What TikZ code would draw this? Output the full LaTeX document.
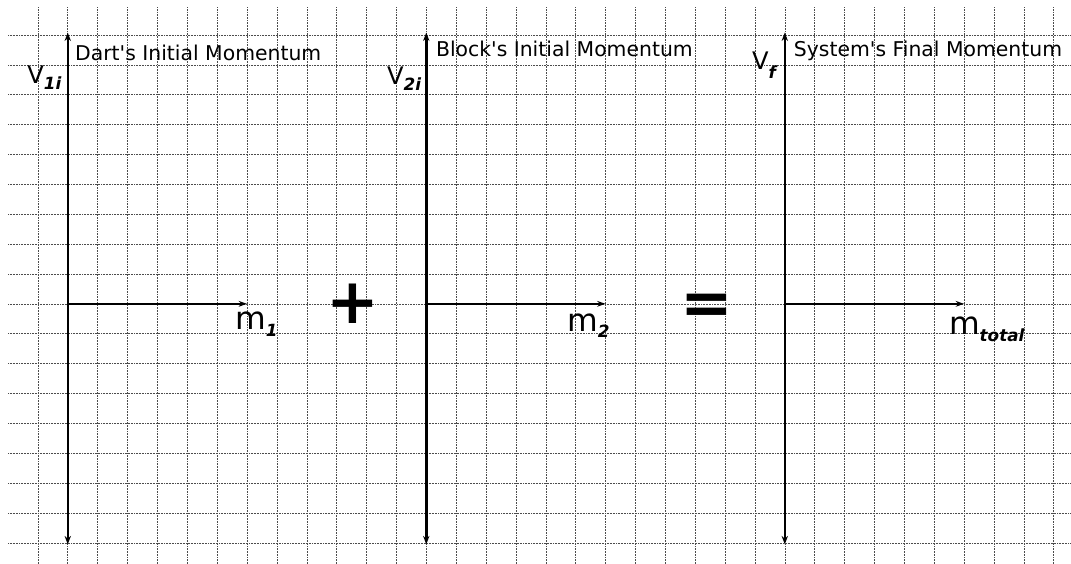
\documentclass[tikz,border=0pt]{standalone}
\usepackage{fontspec}
\newfontfamily\dv{DejaVu Sans}
\usetikzlibrary{arrows.meta}
\newcommand{\subf}[1]{{\fontsize{16}{16}\selectfont\bfseries\itshape #1}}
\begin{document}
\begin{tikzpicture}[
  gridline/.style={black!70, line width=0.5pt, densely dotted},
  vaxis/.style={line width=2.4pt, {Stealth[length=8pt,width=6pt]}-{Stealth[length=8pt,width=6pt]}},
  haxis/.style={line width=1.6pt, -{Stealth[length=8pt,width=5.5pt]}},
  title/.style={anchor=base west, inner sep=0pt, font=\dv\fontsize{19.4}{19.4}\selectfont},
  vlab/.style={anchor=base west, inner sep=0pt, font=\dv\fontsize{23}{23}\selectfont},
  mlab/.style={anchor=base west, inner sep=0pt, font=\dv\fontsize{30}{30}\selectfont},
  op/.style={anchor=center, inner sep=0pt, font=\dv\fontsize{60}{60}\selectfont\bfseries}
]
\useasboundingbox (-0.268,-0.703) rectangle (35.58,18.17);
\fill[white] (-0.268,-0.703) rectangle (35.58,18.17);
% grid
\foreach \x in {1,...,35} \draw[gridline] (\x,-0.703) -- (\x,17.94);
\foreach \y in {0,...,17} \draw[gridline] (0,\y) -- (35.58,\y);
% axes coordinates
\coordinate (b1) at (2,-0.05);  \coordinate (t1) at (2,17.08);
\coordinate (o1) at (2,8);      \coordinate (e1) at (8,8);
\coordinate (b2) at (14,-0.05); \coordinate (t2) at (14,17.08);
\coordinate (o2) at (14,8);     \coordinate (e2) at (20,8);
\coordinate (b3) at (26,-0.05); \coordinate (t3) at (26,17.08);
\coordinate (o3) at (26,8);     \coordinate (e3) at (32,8);
\draw[vaxis] (b1) -- (t1);
\draw[haxis] (o1) -- (e1);
\draw[vaxis] (b2) -- (t2);
\draw[haxis] (o2) -- (e2);
\draw[vaxis] (b3) -- (t3);
\draw[haxis] (o3) -- (e3);
% titles
\node[title] (ti1) at (2.24,16.13) {Dart's Initial Momentum};
\node[title] (ti2) at (14.32,16.27) {Block's Initial Momentum};
\node[title] (ti3) at (26.30,16.27) {System's Final Momentum};
% vertical labels
\node[vlab] (v1) at (0.64,15.36) {V\raisebox{-5.7pt}{\subf{1i}}};
\node[vlab] (v2) at (12.68,15.33) {V\raisebox{-5.7pt}{\subf{2i}}};
\node[vlab] (v3) at (24.90,15.83) {V\raisebox{-8pt}{\subf{f}}};
% horizontal labels
\node[mlab] (m1) at (7.60,7.13) {m\raisebox{-6.7pt}{\subf{1}}};
\node[mlab] (m2) at (18.71,7.06) {m\raisebox{-5.7pt}{\subf{2}}};
\node[mlab] (m3) at (31.49,6.96) {m\raisebox{-6.7pt}{\subf{total}}};
% operators
\node[op] (plus) at (11.55,8.0) {+};
\node[op] (eq) at (23.39,7.83) {=};
\end{tikzpicture}
\end{document}
